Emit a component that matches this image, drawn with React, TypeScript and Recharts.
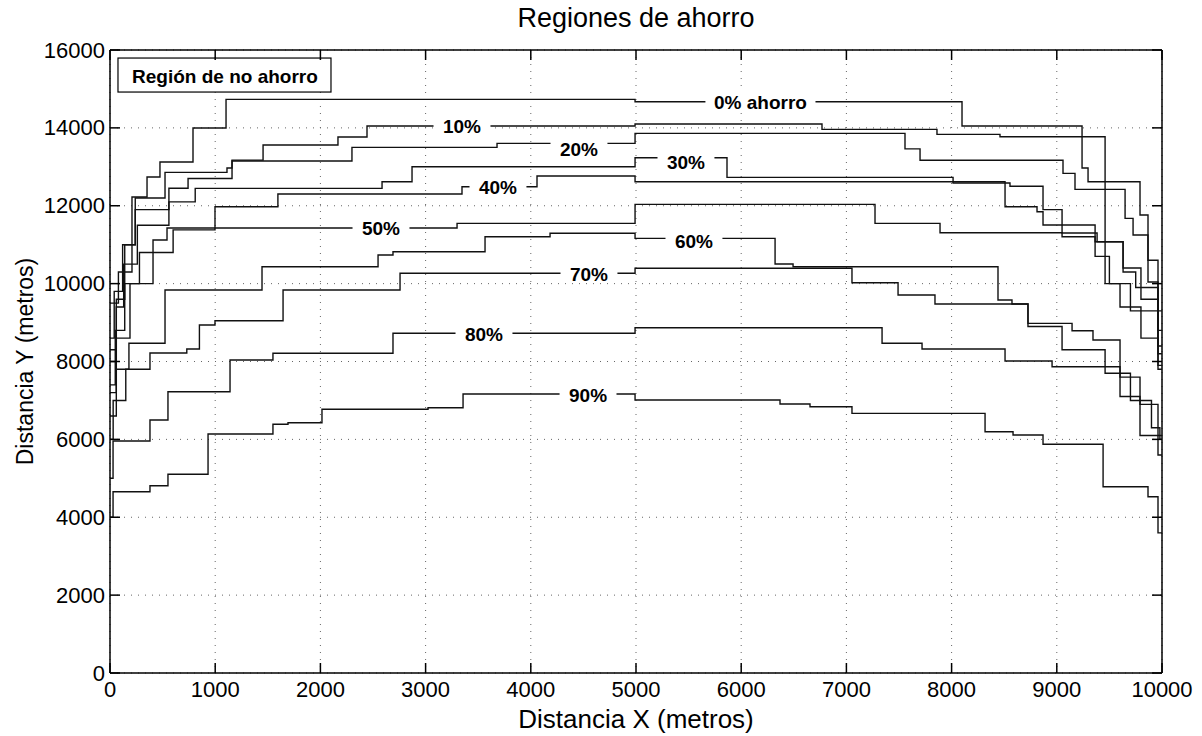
import React from "react";
import { LineChart, Line, XAxis, YAxis, CartesianGrid, ReferenceDot, ReferenceLine } from "recharts";

// step contours, [x metros, y metros]
const ahorro0 = [[0, 9500], [80, 10300], [209, 12224], [352, 12737], [475, 13122], [789, 13996], [1103, 14733], [4991, 14671], [8099, 14047], [9240, 12968], [9297, 12617], [9791, 11761], [9867, 10041], [9962, 8800], [10000, 8800]];
const ahorro10 = [[0, 8600], [40, 9800], [120, 11000], [240, 12200], [523, 12858], [1112, 12968], [1160, 13173], [1455, 13560], [2167, 13765], [2443, 14047], [4991, 14098], [6768, 13962], [7861, 13834], [8460, 13773], [9459, 10000], [9601, 9400], [9800, 8600], [9962, 7800], [10000, 7800]];
const ahorro20 = [[0, 8300], [60, 9600], [140, 11000], [240, 11900], [560, 12450], [742, 12700], [1160, 13150], [2300, 13500], [3679, 13603], [4991, 13860], [7557, 13460], [7700, 13170], [9059, 12832], [9173, 12421], [9649, 11677], [9725, 11250], [9867, 10600], [9962, 9300], [10000, 9300]];
const ahorro30 = [[0, 8000], [60, 9400], [130, 10500], [260, 11500], [560, 12100], [810, 12447], [2586, 12617], [2871, 13002], [4991, 13233], [5865, 12730], [8014, 12617], [8508, 11975], [8812, 11846], [8869, 11505], [9364, 11076], [9630, 10400], [9800, 9600], [9962, 8400], [10000, 8400]];
const ahorro40 = [[0, 7400], [50, 8800], [140, 10000], [280, 10800], [600, 11380], [998, 11975], [1596, 12301], [3346, 12488], [4059, 12763], [4991, 12617], [8014, 12583], [8555, 12500], [8869, 11900], [9050, 11300], [9383, 11076], [9630, 10300], [9750, 9900], [9962, 8200], [10000, 8200]];
const ahorro50 = [[0, 7200], [60, 8600], [190, 10000], [409, 11120], [542, 11430], [3299, 11548], [4991, 12036], [7272, 11548], [7890, 11307], [9050, 11204], [9364, 10700], [9500, 10000], [9700, 9300], [9962, 7900], [10000, 7900]];
const ahorro60 = [[0, 6600], [60, 7800], [180, 8470], [523, 9835], [1445, 10434], [2548, 10734], [2690, 10819], [3565, 11204], [4183, 11292], [4991, 11163], [6322, 10503], [6493, 10434], [8441, 9579], [8574, 9476], [8726, 8980], [9145, 8790], [9344, 8551], [9601, 7600], [9791, 6900], [9962, 6100], [10000, 6100]];
const ahorro70 = [[0, 6000], [30, 7000], [150, 7800], [380, 8217], [730, 8320], [850, 8937], [998, 9047], [1645, 9835], [2757, 10265], [4991, 10393], [7053, 10023], [7491, 9707], [7842, 9476], [8726, 8900], [9050, 8300], [9459, 7700], [9700, 7000], [9900, 6300], [9980, 6000], [10000, 6000]];
const ahorro80 = [[0, 5000], [29, 5958], [380, 6497], [551, 7224], [1141, 8038], [1549, 8210], [2690, 8724], [4991, 8867], [7339, 8467], [7719, 8320], [8508, 8012], [8955, 7866], [9601, 7100], [9791, 6100], [9962, 5600], [10000, 5600]];
const ahorro90 = [[0, 4000], [29, 4656], [380, 4810], [551, 5103], [932, 6138], [1549, 6387], [1692, 6428], [2015, 6772], [3023, 6813], [3356, 7165], [4991, 7011], [6369, 6908], [6654, 6839], [7053, 6669], [8318, 6197], [8584, 6112], [8869, 5873], [9440, 4784], [9867, 4527], [9962, 3600], [10000, 3600]];

const curvas = [ahorro0, ahorro10, ahorro20, ahorro30, ahorro40, ahorro50, ahorro60, ahorro70, ahorro80, ahorro90];

const etiquetas = ["0% ahorro", "10%", "20%", "30%", "40%", "50%", "60%", "70%", "80%", "90%"];
const etiquetaX = [6183, 3346, 4458, 5475, 3688, 2576, 5551, 4553, 3555, 4544];
const etiquetaY = [14690, 14073, 13480, 13130, 12490, 11430, 11120, 10272, 8730, 7165];

const xTicks = [0, 1000, 2000, 3000, 4000, 5000, 6000, 7000, 8000, 9000, 10000];
const yTicks = [0, 2000, 4000, 6000, 8000, 10000, 12000, 14000, 16000];
const X_MAX = 10000;
const Y_MAX = 16000;

const FONT = "'Liberation Sans', Arial, Helvetica, sans-serif";

// chart box (px)
const W = 1202;
const H = 736;
const M_TOP = 50;
const M_RIGHT = 40;
const X_AXIS_H = 63;
const Y_AXIS_W = 110;
const PLOT_TOP = M_TOP;
const PLOT_BOTTOM = H - X_AXIS_H;
const PLOT_LEFT = Y_AXIS_W;
const PLOT_RIGHT = W - M_RIGHT;
const TICK_LEN = 10;

const charW = (c: string) => (c === "%" ? 0.889 : c === " " ? 0.278 : c === "r" ? 0.389 : 0.58);
const textWidth = (t: string, size: number) => t.split("").reduce((s, c) => s + charW(c), 0) * size;

const etiquetaShape = (text: string) => (props: any) => {
  const { cx, cy } = props;
  const w = textWidth(text, 19) + 18;
  return (
    <g>
      <rect x={cx - w / 2} y={cy - 9} width={w} height={18} fill="#fff" />
      <text x={cx} y={cy + 1} textAnchor="middle" dominantBaseline="central" fontFamily={FONT} fontWeight="bold" fontSize={19} fill="#000">
        {text}
      </text>
    </g>
  );
};

const cajaShape = (props: any) => {
  const { cx, cy } = props;
  return (
    <g>
      <rect x={cx - 107} y={cy - 17} width={213} height={34} fill="#fff" stroke="#000" strokeWidth={1.2} />
      <text x={cx} y={cy + 1} textAnchor="middle" dominantBaseline="central" fontFamily={FONT} fontWeight="bold" fontSize={19} fill="#000">
        Región de no ahorro
      </text>
    </g>
  );
};

// tick label plus inward tick marks at both ends (MATLAB box style)
const XTick = (props: any) => {
  const { x, payload } = props;
  return (
    <g>
      <line x1={x} x2={x} y1={PLOT_BOTTOM} y2={PLOT_BOTTOM - TICK_LEN} stroke="#000" strokeWidth={1.5} />
      <line x1={x} x2={x} y1={PLOT_TOP} y2={PLOT_TOP + TICK_LEN} stroke="#000" strokeWidth={1.5} />
      <text x={x} y={PLOT_BOTTOM + 24} textAnchor="middle" fontFamily={FONT} fontSize={22} fill="#000">
        {payload.value}
      </text>
    </g>
  );
};

const YTick = (props: any) => {
  const { y, payload } = props;
  return (
    <g>
      <line x1={PLOT_LEFT} x2={PLOT_LEFT + TICK_LEN} y1={y} y2={y} stroke="#000" strokeWidth={1.5} />
      <line x1={PLOT_RIGHT} x2={PLOT_RIGHT - TICK_LEN} y1={y} y2={y} stroke="#000" strokeWidth={1.5} />
      <text x={PLOT_LEFT - 5} y={y} textAnchor="end" dominantBaseline="central" fontFamily={FONT} fontSize={22} fill="#000">
        {payload.value}
      </text>
    </g>
  );
};

export default function App() {
  const border = { stroke: "#000", strokeWidth: 1.5 };
  return (
    <div style={{ position: "absolute", left: 0, top: 0, width: W, height: H, background: "#fff", fontFamily: FONT }}>
      <div style={{ position: "absolute", top: 4, left: 0, width: 2 * ((PLOT_LEFT + PLOT_RIGHT) / 2), textAlign: "center", fontSize: 27, lineHeight: "28px", color: "#000" }}>
        Regiones de ahorro
      </div>
      <LineChart width={W} height={H} margin={{ top: M_TOP, right: M_RIGHT, bottom: 0, left: 0 }}>
        <CartesianGrid xAxisId="x" yAxisId="y" stroke="#666" strokeDasharray="1 6" />
        <XAxis
          xAxisId="x"
          dataKey="x"
          type="number"
          domain={[0, X_MAX]}
          allowDataOverflow
          ticks={xTicks}
          interval={0}
          height={X_AXIS_H}
          tickLine={false}
          axisLine={border}
          tick={<XTick />}
          label={{
            content: ({ viewBox }: any) => (
              <text x={viewBox.x + viewBox.width / 2} y={viewBox.y + 46} textAnchor="middle" dominantBaseline="central" fontFamily={FONT} fontSize={26} fill="#000">
                Distancia X (metros)
              </text>
            ),
          }}
        />
        <YAxis
          yAxisId="y"
          type="number"
          domain={[0, Y_MAX]}
          allowDataOverflow
          ticks={yTicks}
          interval={0}
          width={Y_AXIS_W}
          tickLine={false}
          axisLine={border}
          tick={<YTick />}
          label={{
            content: ({ viewBox }: any) => {
              const cx = viewBox.x + 25;
              const cy = viewBox.y + viewBox.height / 2;
              return (
                <text x={cx} y={cy} transform={`rotate(-90 ${cx} ${cy})`} textAnchor="middle" dominantBaseline="central" fontFamily={FONT} fontSize={23} fill="#000">
                  Distancia Y (metros)
                </text>
              );
            },
          }}
        />
        <ReferenceLine xAxisId="x" yAxisId="y" y={Y_MAX} stroke="#000" strokeWidth={1.5} />
        <ReferenceLine xAxisId="x" yAxisId="y" x={X_MAX} stroke="#000" strokeWidth={1.5} />
        {curvas.map((c, i) => (
          <Line
            key={etiquetas[i]}
            xAxisId="x"
            yAxisId="y"
            data={c.map(([x, y]) => ({ x, y }))}
            dataKey="y"
            type="stepAfter"
            dot={false}
            stroke="#111"
            strokeWidth={1.4}
            isAnimationActive={false}
          />
        ))}
        {etiquetas.map((t, i) => (
          <ReferenceDot key={"l" + t} xAxisId="x" yAxisId="y" x={etiquetaX[i]} y={etiquetaY[i]} r={1} shape={etiquetaShape(t)} />
        ))}
        <ReferenceDot xAxisId="x" yAxisId="y" x={1093} y={15357} r={1} shape={cajaShape} />
      </LineChart>
    </div>
  );
}
